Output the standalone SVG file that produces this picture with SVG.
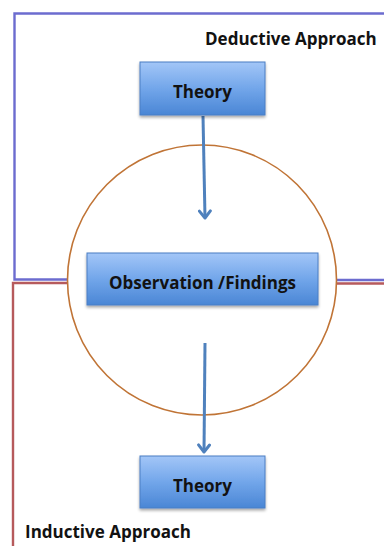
<svg xmlns="http://www.w3.org/2000/svg" width="384" height="546" viewBox="0 0 384 546">
  <defs>
    <linearGradient id="boxFill" x1="0" y1="0" x2="0" y2="1">
      <stop offset="0" stop-color="#a3c6f7"/>
      <stop offset="0.5" stop-color="#72a6ea"/>
      <stop offset="1" stop-color="#4a86d5"/>
    </linearGradient>
    <filter id="shadow" x="-10%" y="-10%" width="120%" height="130%">
      <feGaussianBlur in="SourceAlpha" stdDeviation="1.5"/>
      <feOffset dx="0" dy="2" result="b"/>
      <feComponentTransfer><feFuncA type="linear" slope="0.35"/></feComponentTransfer>
      <feMerge><feMergeNode/><feMergeNode in="SourceGraphic"/></feMerge>
    </filter>
    <!-- open chevron head, drawn along +x so orient="auto" aligns it with the line -->
    <marker id="arrow" viewBox="0 0 12 14" refX="10" refY="7" markerWidth="12" markerHeight="14" markerUnits="userSpaceOnUse" orient="auto">
      <path d="M3,1.5 L10,7 L3,12.5" fill="none" stroke="#4f81bd" stroke-width="3" stroke-linecap="round" stroke-linejoin="round"/>
    </marker>
    <style>
      .box { fill: url(#boxFill); stroke: #4a7fc4; stroke-width: 1; filter: url(#shadow); }
      .label { font-family: "Open Sans", "Liberation Sans", sans-serif; font-weight: bold; font-size: 17px; fill: #121212; }
      .frame { fill: none; stroke-width: 2.4; }
      .conn { stroke: #4f81bd; stroke-width: 3; fill: none; }
    </style>
  </defs>

  <rect width="384" height="546" fill="#ffffff"/>

  <!-- deductive frame (blue) -->
  <g id="deductive-frame">
    <path class="frame" stroke="#6c6ccf" d="M384,13.5 H14.5 V279.5 H68 M336,280 H384"/>
  </g>

  <!-- inductive frame (red) -->
  <g id="inductive-frame">
    <path class="frame" stroke="#b65a5c" d="M13,546 V283 H68 M336,283.5 H384"/>
  </g>

  <!-- central circle -->
  <g id="circle">
    <ellipse cx="202" cy="280" rx="134.5" ry="135" fill="none" stroke="#c07436" stroke-width="1.6"/>
  </g>

  <!-- connectors -->
  <g id="connectors">
    <line class="conn" x1="203" y1="116" x2="205" y2="218" marker-end="url(#arrow)"/>
    <line class="conn" x1="205" y1="343" x2="204" y2="452" marker-end="url(#arrow)"/>
  </g>

  <g id="theory-top">
    <rect class="box" x="140" y="62" width="125" height="53"/>
    <text class="label" x="202.5" y="98" text-anchor="middle">Theory</text>
  </g>

  <g id="observation">
    <rect class="box" x="87" y="253" width="231" height="52"/>
    <text class="label" x="202.5" y="289" text-anchor="middle">Observation /Findings</text>
  </g>

  <g id="theory-bottom">
    <rect class="box" x="140" y="456" width="125" height="52"/>
    <text class="label" x="202.5" y="492" text-anchor="middle">Theory</text>
  </g>

  <text class="label" x="205" y="45">Deductive Approach</text>
  <text class="label" x="25" y="538">Inductive Approach</text>
</svg>
